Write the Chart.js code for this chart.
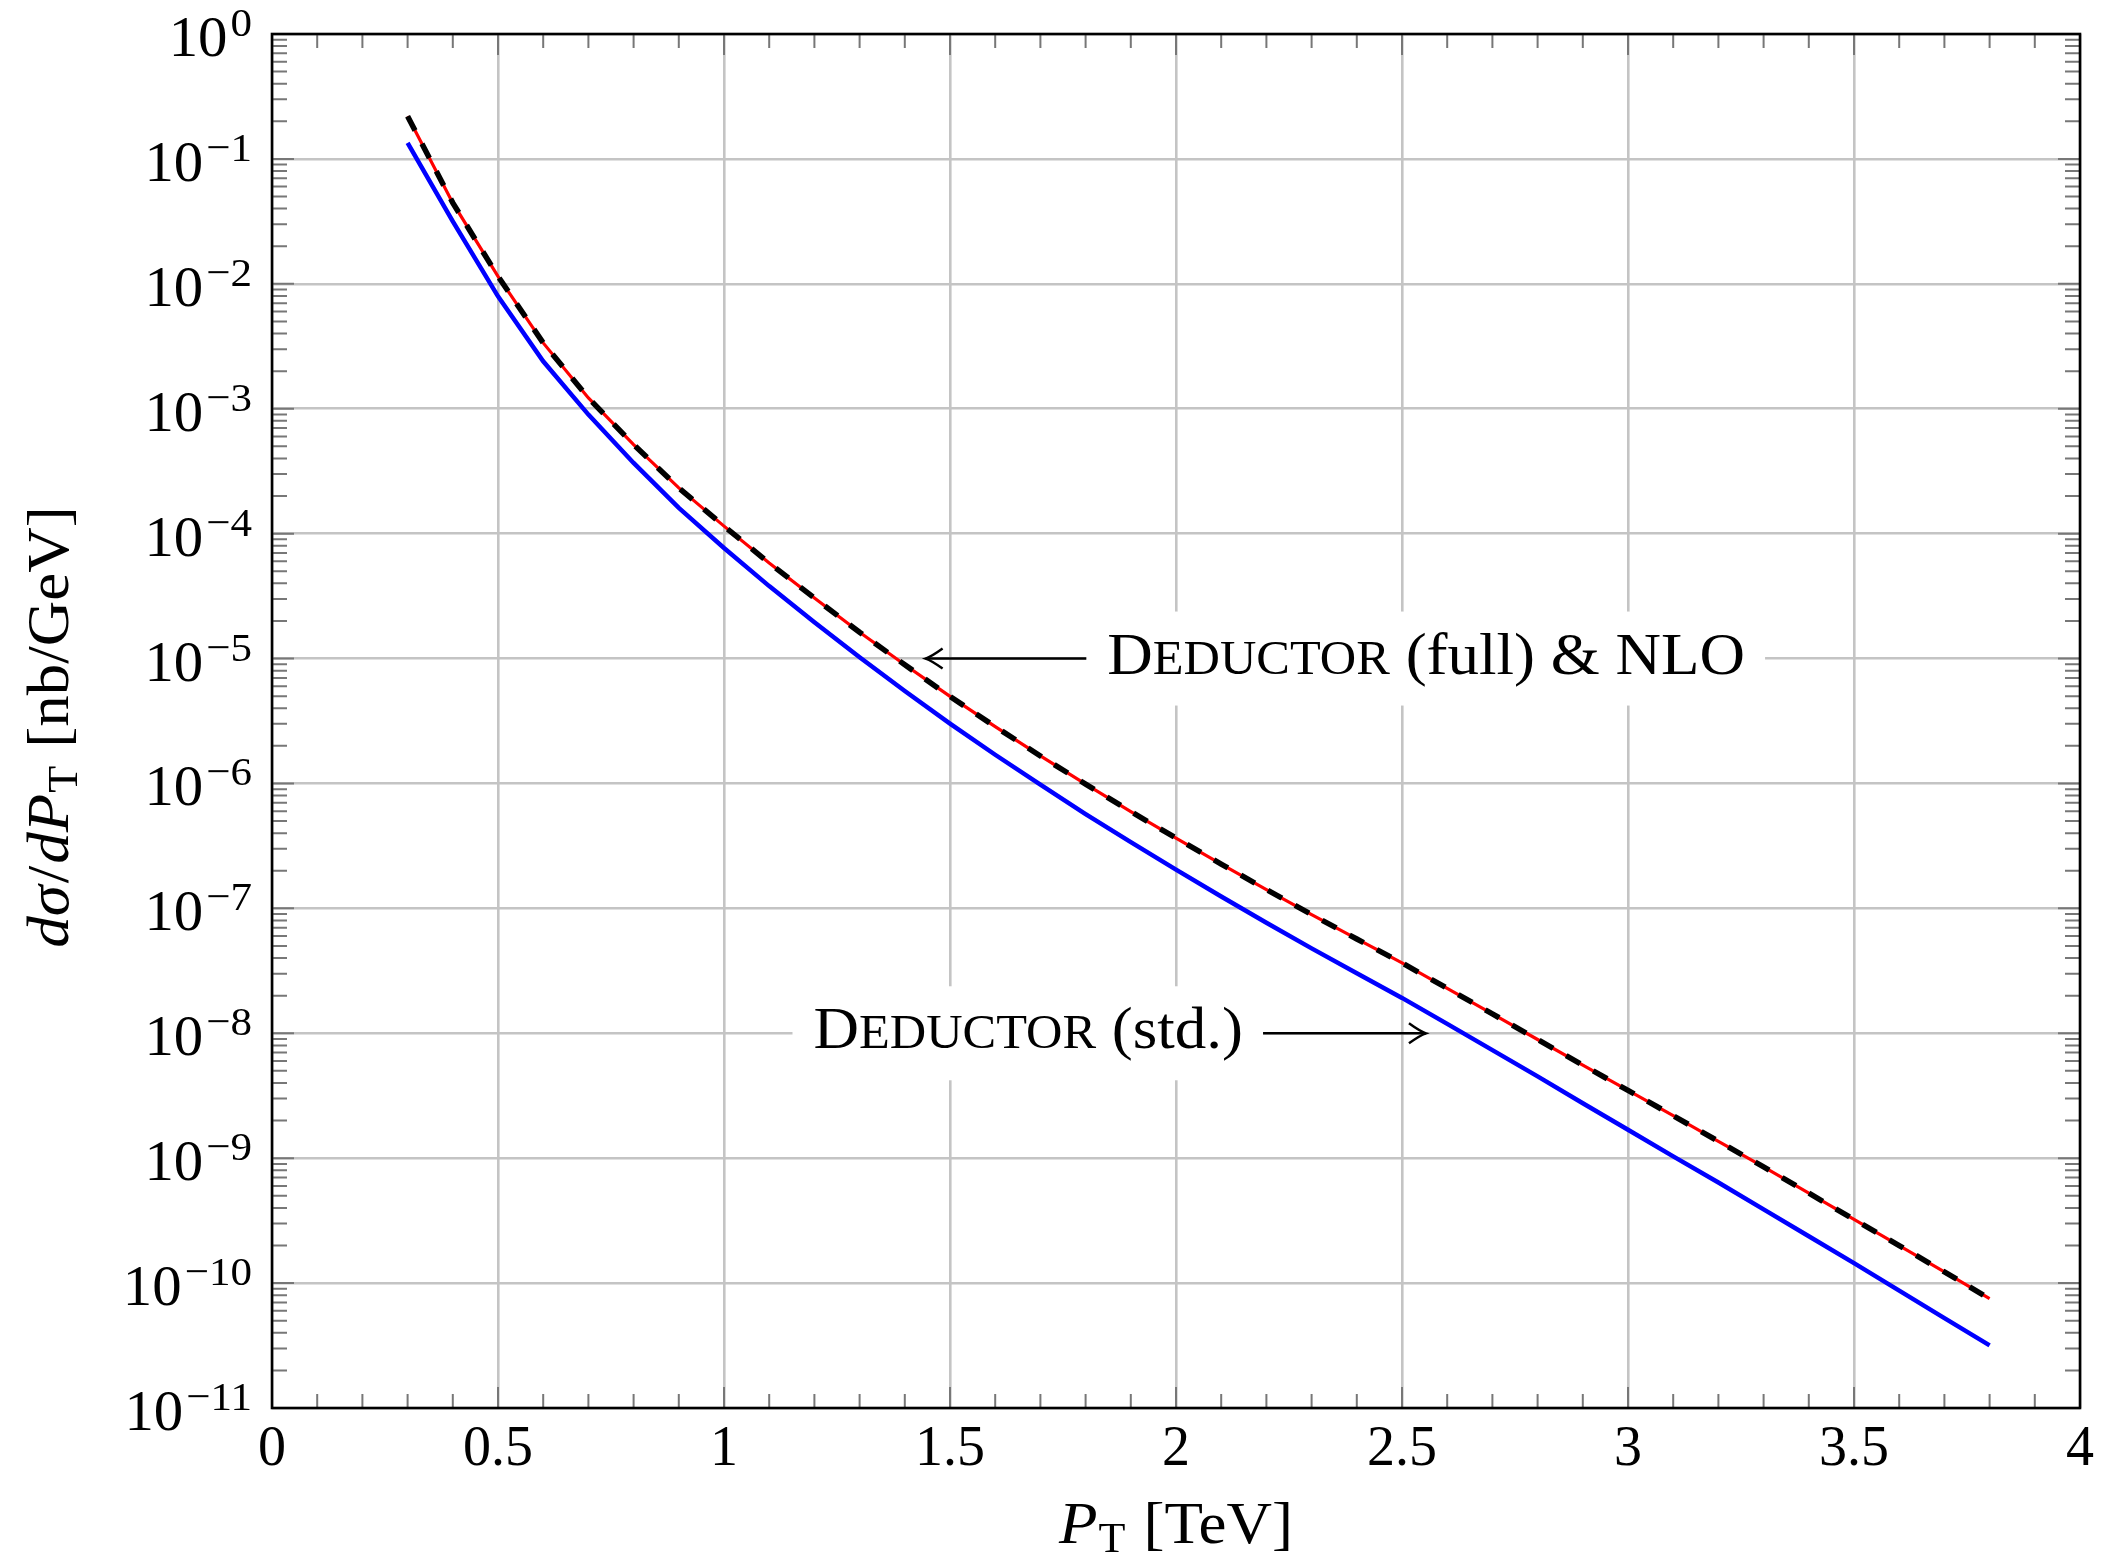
<!DOCTYPE html>
<html>
<head>
<meta charset="utf-8">
<title>Jet cross section</title>
<script src="https://cdn.jsdelivr.net/npm/chart.js@4.4.1/dist/chart.umd.min.js"></script>
<style>
  html, body { margin: 0; padding: 0; background: #fff; }
  canvas { display: block; }
</style>
</head>
<body>
<canvas id="xsec" width="2116" height="1562"></canvas>
<script>
// P_T in TeV
const ptValues = [0.3, 0.4, 0.5, 0.6, 0.7, 0.8, 0.9, 1.0, 1.1, 1.2, 1.3, 1.4, 1.5, 1.6, 1.7, 1.8, 1.9, 2.0,
                  2.1, 2.2, 2.3, 2.4, 2.5, 2.6, 2.7, 2.8, 2.9, 3.0, 3.1, 3.2, 3.3, 3.4, 3.5, 3.6, 3.7, 3.8];

// dsigma/dP_T in nb/GeV
const stdValues = [1.343e-1, 3.162e-2, 7.943e-3, 2.399e-3, 8.974e-4, 3.681e-4, 1.607e-4, 7.674e-5, 3.802e-5,
                   1.950e-5, 1.023e-5, 5.495e-6, 3.013e-6, 1.698e-6, 9.772e-7, 5.689e-7, 3.388e-7, 2.042e-7,
                   1.245e-7, 7.674e-8, 4.786e-8, 3.020e-8, 1.919e-8, 1.189e-8, 7.328e-9, 4.519e-9, 2.754e-9,
                   1.690e-9, 1.035e-9, 6.383e-10, 3.890e-10, 2.371e-10, 1.445e-10, 8.710e-11, 5.248e-11, 3.170e-11];

const fullValues = [2.193e-1, 4.446e-2, 1.148e-2, 3.365e-3, 1.219e-3, 5.164e-4, 2.323e-4, 1.148e-4, 5.821e-5,
                    3.055e-5, 1.622e-5, 8.913e-6, 4.977e-6, 2.851e-6, 1.660e-6, 9.886e-7, 5.957e-7, 3.656e-7,
                    2.265e-7, 1.413e-7, 8.913e-8, 5.689e-8, 3.656e-8, 2.291e-8, 1.429e-8, 8.913e-9, 5.559e-9,
                    3.491e-9, 2.188e-9, 1.365e-9, 8.511e-10, 5.248e-10, 3.236e-10, 1.995e-10, 1.230e-10, 7.499e-11];

const nloValues = [2.193e-1, 4.446e-2, 1.148e-2, 3.365e-3, 1.219e-3, 5.164e-4, 2.323e-4, 1.148e-4, 5.821e-5,
                   3.055e-5, 1.622e-5, 8.913e-6, 4.977e-6, 2.851e-6, 1.660e-6, 9.886e-7, 5.957e-7, 3.656e-7,
                   2.265e-7, 1.413e-7, 8.913e-8, 5.689e-8, 3.656e-8, 2.291e-8, 1.429e-8, 8.913e-9, 5.559e-9,
                   3.491e-9, 2.188e-9, 1.365e-9, 8.511e-10, 5.248e-10, 3.236e-10, 1.995e-10, 1.230e-10, 7.499e-11];

const xTickValues = [0, 0.5, 1, 1.5, 2, 2.5, 3, 3.5, 4];
const xTickLabels = ['0', '0.5', '1', '1.5', '2', '2.5', '3', '3.5', '4'];
const yTickExponents = [0, -1, -2, -3, -4, -5, -6, -7, -8, -9, -10, -11];

// arrow labels, placed in data coordinates
const noteFull = { parts: ['D', 'EDUCTOR', ' (full) & NLO'], textX: 1.848, y: 1e-5, tipX: 1.446, side: 'left' };
const noteStd = { parts: ['D', 'EDUCTOR', ' (std.)'], textX: 1.198, y: 1e-8, tipX: 2.553, side: 'right' };

const FAMILY = '"Liberation Serif", "DejaVu Serif", serif';
const STRETCH = 1.05;   // serif face is a bit narrower than Computer Modern

function fontOf(run) {
  return (run.italic ? 'italic ' : '') + run.size + 'px ' + FAMILY;
}

// draw a row of text runs (different sizes / offsets) on one baseline
function drawRuns(ctx, runs, x, y, align) {
  let total = 0;
  runs.forEach(r => {
    ctx.font = fontOf(r);
    r.w = ctx.measureText(r.text).width * STRETCH + (r.gap || 0);
    total += r.w;
  });
  let cx = align === 'center' ? x - total / 2 : (align === 'right' ? x - total : x);
  const start = cx;
  ctx.textAlign = 'left';
  ctx.textBaseline = 'alphabetic';
  runs.forEach(r => {
    ctx.font = fontOf(r);
    ctx.save();
    ctx.translate(cx, y + (r.dy || 0));
    ctx.scale(STRETCH, 1);
    ctx.fillText(r.text, 0, 0);
    ctx.restore();
    cx += r.w;
  });
  return { left: start, right: start + total };
}

function smallCaps(parts, size) {
  return [
    { text: parts[0], size: size },
    { text: parts[1], size: Math.round(size * 0.8) },
    { text: parts[2], size: size }
  ];
}

function arrowHead(ctx, x, y, dir) {
  ctx.beginPath();
  ctx.moveTo(x - dir * 17, y - 10);
  ctx.quadraticCurveTo(x - dir * 6, y - 2, x, y);
  ctx.quadraticCurveTo(x - dir * 6, y + 2, x - dir * 17, y + 10);
  ctx.stroke();
}

function measureRuns(ctx, runs) {
  let total = 0;
  runs.forEach(r => {
    ctx.font = fontOf(r);
    total += ctx.measureText(r.text).width * STRETCH + (r.gap || 0);
  });
  return total;
}

const texPlugin = {
  id: 'texPlugin',
  beforeDatasetsDraw(chart) {
    const ctx = chart.ctx;
    const xs = chart.scales.x, ys = chart.scales.y;
    ctx.save();
    [noteFull, noteStd].forEach(n => {
      const runs = smallCaps(n.parts, 60);
      const w = measureRuns(ctx, runs);
      const left = xs.getPixelForValue(n.textX);
      const yc = ys.getPixelForValue(n.y);
      const boxL = left - 21, boxR = left + w + 20;
      ctx.fillStyle = '#fff';
      ctx.fillRect(boxL, yc - 47, boxR - boxL, 94);
      ctx.fillStyle = '#000';
      drawRuns(ctx, runs, left, yc + 15, 'left');
      const tail = n.side === 'left' ? boxL : boxR;
      const tip = xs.getPixelForValue(n.tipX);
      ctx.strokeStyle = '#000';
      ctx.lineWidth = 2.4;
      ctx.beginPath();
      ctx.moveTo(tail, yc);
      ctx.lineTo(tip, yc);
      ctx.stroke();
      arrowHead(ctx, tip, yc, tip < tail ? -1 : 1);
    });
    ctx.restore();
  },
  afterDraw(chart) {
    const ctx = chart.ctx;
    const a = chart.chartArea;
    const xs = chart.scales.x, ys = chart.scales.y;
    ctx.save();

    // tick marks pointing inwards on all four sides
    ctx.strokeStyle = '#777';
    ctx.lineWidth = 2;
    ctx.beginPath();
    for (let e = -11; e <= 0; e++) {
      for (let m = 1; m <= 9; m++) {
        const v = m * Math.pow(10, e);
        if (v > 1) break;
        const y = ys.getPixelForValue(v);
        const len = m === 1 ? 22 : 15;
        ctx.moveTo(a.left, y); ctx.lineTo(a.left + len, y);
        ctx.moveTo(a.right, y); ctx.lineTo(a.right - len, y);
      }
    }
    for (let i = 0; i <= 40; i++) {
      const x = xs.getPixelForValue(i / 10);
      const len = i % 5 === 0 ? 21 : 14;
      ctx.moveTo(x, a.bottom); ctx.lineTo(x, a.bottom - len);
      ctx.moveTo(x, a.top); ctx.lineTo(x, a.top + len);
    }
    ctx.stroke();

    // axis box
    ctx.strokeStyle = '#000';
    ctx.lineWidth = 2.6;
    ctx.strokeRect(a.left, a.top, a.right - a.left, a.bottom - a.top);

    // y tick labels 10^n
    ctx.fillStyle = '#000';
    yTickExponents.forEach(e => {
      const y = ys.getPixelForValue(Math.pow(10, e));
      const exp = e < 0 ? '\u2212' + (-e) : String(e);
      drawRuns(ctx, [
        { text: '10', size: 56, dy: 22, gap: 3 },
        { text: exp, size: 41, dy: 2 }
      ], a.left - 20, y, 'right');
    });

    // x axis title
    drawRuns(ctx, [
      { text: 'P', size: 60, italic: true, gap: 1 },
      { text: 'T', size: 42, dy: 9, gap: 18 },
      { text: '[TeV]', size: 60 }
    ], (a.left + a.right) / 2, 1543, 'center');

    // y axis title
    ctx.translate(68, (a.top + a.bottom) / 2 + 6);
    ctx.rotate(-Math.PI / 2);
    drawRuns(ctx, [
      { text: 'd\u03c3', size: 60, italic: true, gap: 2 },
      { text: '/', size: 60, gap: 2 },
      { text: 'dP', size: 60, italic: true, gap: 1 },
      { text: 'T', size: 42, dy: 9, gap: 18 },
      { text: '[nb/GeV]', size: 60 }
    ], 0, 0, 'center');

    ctx.restore();
  }
};

function toPoints(values) {
  return ptValues.map((pt, i) => ({ x: pt, y: values[i] }));
}

const gridStyle = { color: '#c4c4c4', lineWidth: 2.6, drawTicks: false };

new Chart(document.getElementById('xsec'), {
  type: 'line',
  data: {
    datasets: [
      {
        label: 'NLO',
        data: toPoints(nloValues),
        borderColor: '#000000',
        borderWidth: 5.5,
        borderDash: [16, 15],
        pointRadius: 0,
        fill: false
      },
      {
        label: 'Deductor (full)',
        data: toPoints(fullValues),
        borderColor: '#ff0000',
        borderWidth: 3.2,
        pointRadius: 0,
        fill: false
      },
      {
        label: 'Deductor (std.)',
        data: toPoints(stdValues),
        borderColor: '#0000ff',
        borderWidth: 4.5,
        pointRadius: 0,
        fill: false
      }
    ]
  },
  options: {
    responsive: false,
    animation: false,
    devicePixelRatio: 1,
    layout: { padding: { top: 34, right: 36, left: 0, bottom: 0 } },
    plugins: {
      legend: { display: false },
      tooltip: { enabled: false }
    },
    scales: {
      x: {
        type: 'linear',
        min: 0,
        max: 4,
        afterBuildTicks: s => { s.ticks = xTickValues.map(v => ({ value: v })); },
        afterFit: s => { s.height = 154; },
        grid: gridStyle,
        border: { display: false },
        ticks: {
          color: '#000',
          font: { family: FAMILY, size: 56 },
          padding: 9,
          maxRotation: 0,
          autoSkip: false,
          callback: (v, i) => xTickLabels[i]
        }
      },
      y: {
        type: 'logarithmic',
        min: 1e-11,
        max: 1,
        afterBuildTicks: s => { s.ticks = yTickExponents.map(e => ({ value: Math.pow(10, e) })); },
        afterFit: s => { s.width = 272; },
        grid: gridStyle,
        border: { display: false },
        ticks: { display: false }
      }
    }
  },
  plugins: [texPlugin]
});
</script>
</body>
</html>
